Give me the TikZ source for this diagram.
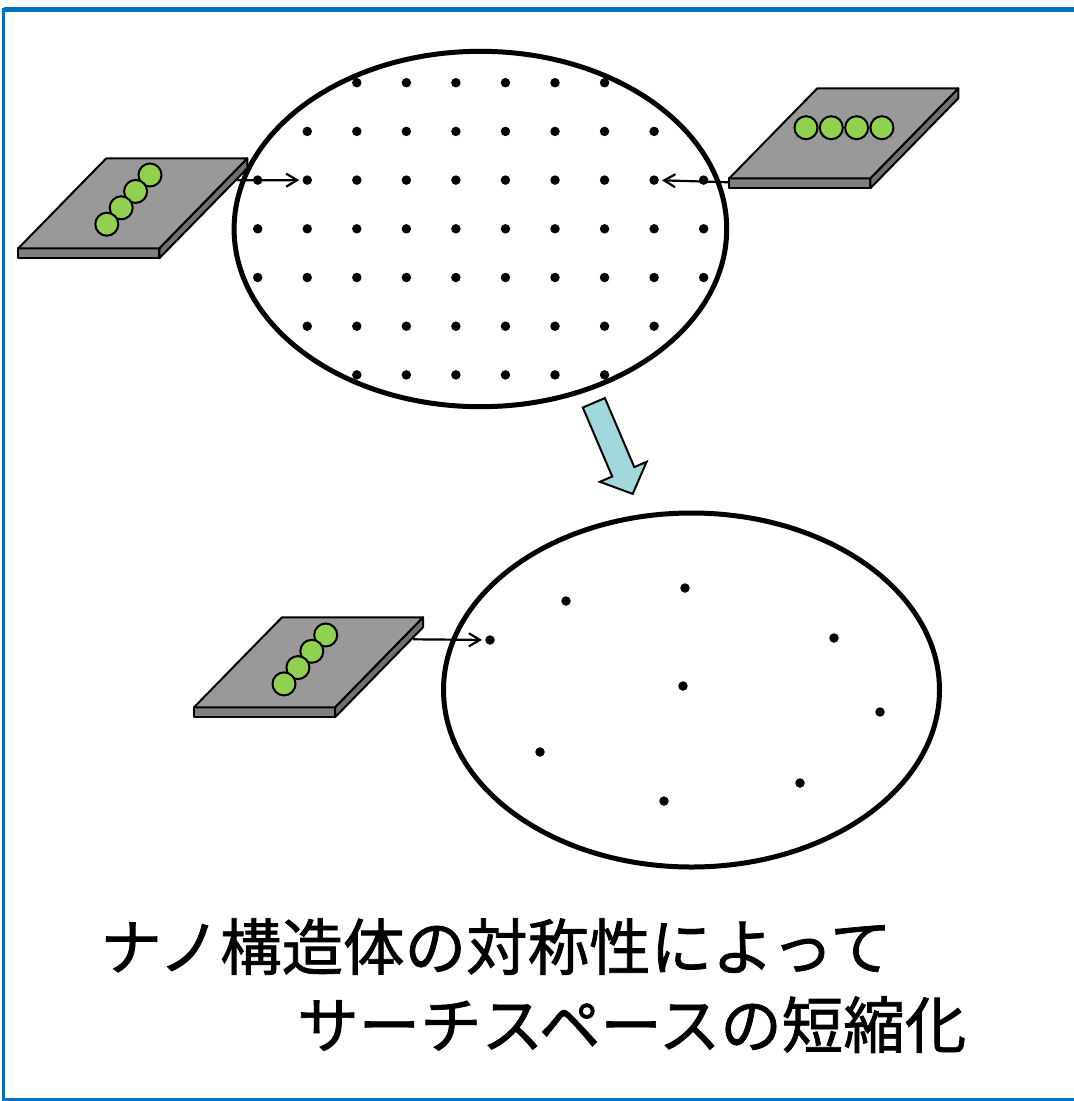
\documentclass[tikz,border=0pt]{standalone}
\usepackage{fontspec}
\newfontfamily\jpfont[FakeBold=1.2]{Noto Sans CJK JP}
\usetikzlibrary{shapes.geometric,arrows.meta}
\definecolor{frameblue}{HTML}{0070C0}
\definecolor{slabtop}{HTML}{999999}
\definecolor{slabfront}{HTML}{7F7F7F}
\definecolor{slabside}{HTML}{707070}
\definecolor{beadgreen}{HTML}{92D050}
\definecolor{flowblue}{HTML}{A0D8DC}

\begin{document}
\begin{tikzpicture}[x=1pt,y=-1pt,
  region/.style={draw, ellipse, line width=5pt, inner sep=0pt},
  site/.style={circle, fill=black, inner sep=0pt, minimum size=9.5pt},
  bead/.style={circle, draw, line width=2pt, fill=beadgreen, inner sep=0pt, minimum size=23pt},
  probe/.style={line width=2.2pt, -{Straight Barb[length=11pt,width=13pt,line width=2.2pt]}, shorten >=3pt},
  slabline/.style={line width=2pt, line join=round},
  caption/.style={font=\jpfont\fontsize{61.5}{70}\selectfont, anchor=base west, inner sep=0pt},
  plate/.pic={
    \coordinate (-bl) at (0,0);
    \coordinate (-east) at (219,-68);
    \coordinate (-west) at (0,4);
    \filldraw[slabline, fill=slabfront] (0,0) rectangle (141,10);
    \filldraw[slabline, fill=slabside] (141,0) -- (229,-90) -- (229,-80) -- (141,10) -- cycle;
    \filldraw[slabline, fill=slabtop] (0,0) -- (88,-90) -- (229,-90) -- (141,0) -- cycle;
  }
]
\useasboundingbox (0,0) rectangle (1074,1101);

% frame
\draw[frameblue, line width=2.8pt] (1074,9.7) -- (3.7,9.7) -- (3.7,1099.3) -- (1074,1099.3);
\draw[frameblue, line width=5pt] (3.7,9.7) -- (1074,9.7);

% full search space
\node[region, minimum width=492.6pt, minimum height=355.4pt] (upper) at (480.4,229) {};
\foreach \r/\a/\b in {0/2/7,1/1/8,2/0/9,3/0/9,4/0/9,5/1/8,6/2/7}
  \foreach \c in {\a,...,\b}
    \node[site] (d-\r-\c) at ({257.7+49.55*\c},{82.7+48.7*\r}) {};

% reduced search space
\node[region, minimum width=496pt, minimum height=354pt] (lower) at (691.5,690) {};
\foreach \n/\x/\y in {1/566/601, 2/685/588, 3/490/640, 4/834/638, 5/683/686,
                      6/880/712, 7/540/752, 8/800/783, 9/664/801}
  \node[site] (e\n) at (\x,\y) {};

% substrates with nanostructures
\pic (pa) at (18.3,248.3) {plate};
\pic (pb) at (729.3,178.3) {plate};
\pic (pc) at (194,707.3) {plate};
\foreach \i in {0,...,3} {
  \node[bead] (pa-b\i) at ({150-14.4*\i},{175+16.4*\i}) {};
  \node[bead] (pb-b\i) at ({806+25.3*\i},127.7) {};
  \node[bead] (pc-b\i) at ({325.7-13.9*\i},{635+16.3*\i}) {};
}

% probing arrows
\draw[probe] (pa-east) -- (d-2-1);
\draw[probe] (pb-west) -- (d-2-8);
\draw[probe] (pc-east) -- (e3);

% reduction arrow
\filldraw[fill=flowblue, line width=2pt, line join=miter]
  (604.9,398.1) -- (634.3,467.1) -- (646.6,461.8) -- (632.7,493.9)
  -- (599.9,481.8) -- (612.2,476.5) -- (582.8,407.5) -- cycle;

% caption
\node[caption] (line1) at (100,970) {ナノ構造体の対称性によって};
\node[caption] (line2) at (297,1048) {サーチスペースの短縮化};
\end{tikzpicture}
\end{document}
